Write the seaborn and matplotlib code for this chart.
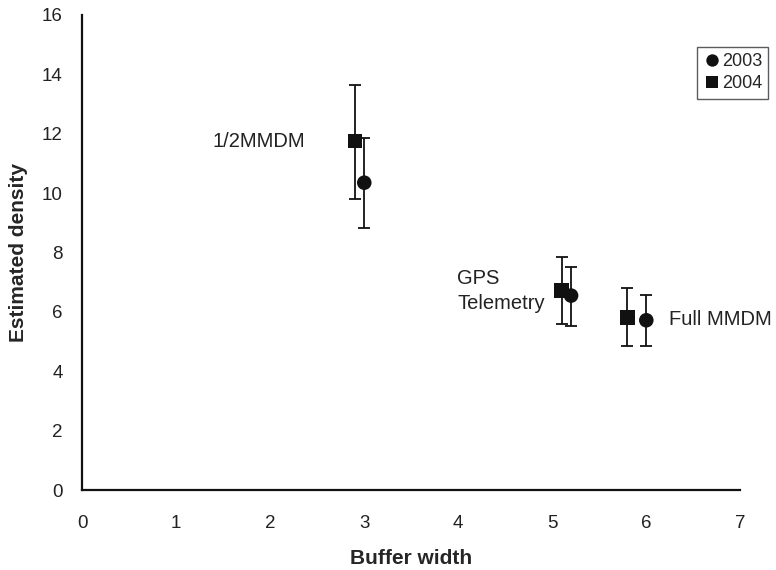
import matplotlib
matplotlib.use('Agg')
import matplotlib.pyplot as plt
import pandas as pd
import seaborn as sns

# Data
years = ['2003', '2003', '2003', '2004', '2004', '2004']
buffer_width = [3.0, 5.2, 6.0, 2.9, 5.1, 5.8]
density = [10.35, 6.55, 5.72, 11.75, 6.72, 5.82]
lower = [8.82, 5.53, 4.86, 9.81, 5.61, 4.86]
upper = [11.86, 7.52, 6.58, 13.65, 7.86, 6.79]

labels = ['1/2MMDM', 'GPS\nTelemetry', 'Full MMDM']
label_x = [1.39, 3.99, 6.24]
label_y = [11.75, 6.69, 5.74]

df = pd.DataFrame({'year': years, 'x': buffer_width, 'y': density,
                   'lo': lower, 'hi': upper})

sns.set_style('white')
plt.rcParams['font.family'] = ['Liberation Sans', 'DejaVu Sans']

fig, ax = plt.subplots(figsize=(7.76, 5.70), dpi=100)
fig.subplots_adjust(left=0.106, right=0.954, bottom=0.14, top=0.974)

# error bars first so markers sit on top
ax.errorbar(df['x'], df['y'], yerr=[df['y'] - df['lo'], df['hi'] - df['y']],
            fmt='none', ecolor='#111111', elinewidth=1.3, capsize=4, capthick=1.3,
            zorder=1)

sns.scatterplot(data=df, x='x', y='y', style='year', markers={'2003': 'o', '2004': 's'},
                color='#111111', s=110, edgecolor='none', linewidth=0, ax=ax, zorder=2)

for text, tx, ty in zip(labels, label_x, label_y):
    ax.text(tx, ty, text, fontsize=14.5, color='#222222', va='center', ha='left',
            linespacing=1.4)

ax.set_xlim(0, 7)
ax.set_ylim(0, 16)
ax.set_xticks(range(0, 8))
ax.set_yticks(range(0, 17, 2))
ax.set_xlabel('Buffer width', fontsize=15, fontweight='bold', labelpad=12)
ax.set_ylabel('Estimated density', fontsize=15, fontweight='bold', labelpad=10)

sns.despine(ax=ax)
for side in ['left', 'bottom']:
    ax.spines[side].set_color('#111111')
    ax.spines[side].set_linewidth(1.6)
ax.tick_params(axis='both', direction='out', length=6, width=1.6, colors='#111111',
               labelsize=13.5, labelcolor='#222222')
ax.tick_params(axis='x', pad=12)
ax.tick_params(axis='y', pad=8)

leg = ax.legend(title=None, loc='upper right', bbox_to_anchor=(0.99, 0.918),
                bbox_transform=fig.transFigure,
                frameon=True, fancybox=False, fontsize=13, handletextpad=0.1,
                borderpad=0.35, borderaxespad=0, labelspacing=0.3, markerscale=0.85,
                handlelength=0.9)
leg.get_frame().set_edgecolor('#333333')
leg.get_frame().set_linewidth(1.0)

fig.savefig('out.png', dpi=100)
